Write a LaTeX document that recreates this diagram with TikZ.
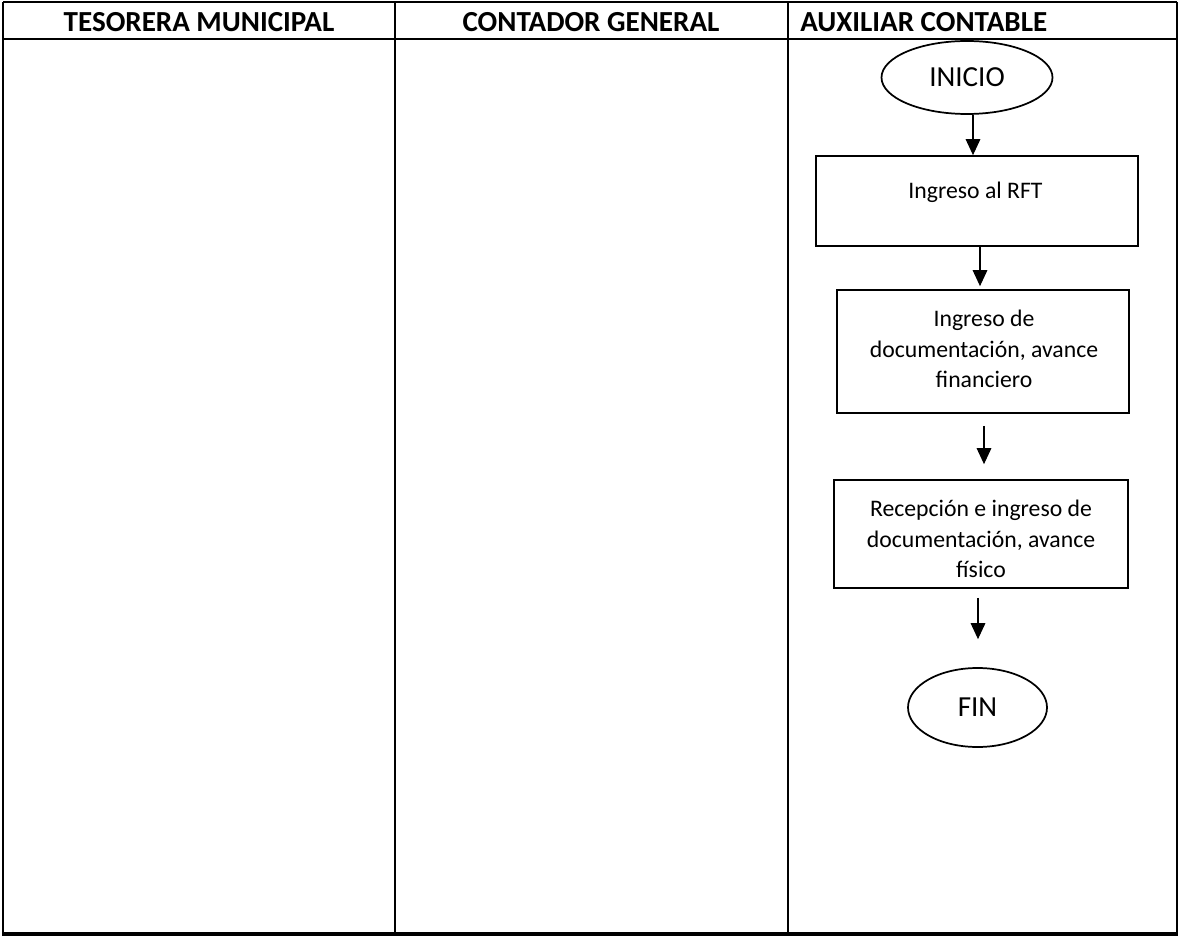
\documentclass[tikz,border=0pt]{standalone}
\usepackage{fontspec}
\setmainfont{Carlito}
\usetikzlibrary{shapes.geometric,arrows.meta,calc}

% one unit of the drawing grid
\newdimen\pxu
\pxu=0.75pt

\tikzset{
  grid/.style={line width=1.2pt},
  lanehead/.style={font=\bfseries\fontsize{21.8}{26}\selectfont, inner sep=0pt},
  terminal/.style={ellipse, draw, line width=1.3pt, inner sep=0pt,
    font=\fontsize{21.8}{26}\selectfont},
  procbox/.style={rectangle, draw, line width=1.3pt, inner sep=0pt},
  proctext/.style={align=center, inner sep=0pt,
    font=\fontsize{17.8}{22.8}\selectfont},
  flow/.style={line width=0.8pt, -{Triangle[width=11pt,length=12pt]}}
}

\begin{document}
\begin{tikzpicture}[x=0.75pt,y=-0.75pt]
  \useasboundingbox (0,0) rectangle (1180,937);

  % swimlane table
  \draw[grid] (3,2) -- (1177,2);
  \draw[grid] (3,39) -- (1177,39);
  \draw[grid] (1177,2) -- (1177,934);
  \draw[line width=1.6pt] (3,2) -- (3,934);
  \draw[line width=2.3pt] (2,934) -- (1178,934);
  \draw[grid] (395,2) -- (395,934);
  \draw[grid] (788,2) -- (788,934);

  % lane titles
  \node[lanehead] (h1) at (199,22) {TESORERA MUNICIPAL};
  \node[lanehead] (h2) at (591,22) {CONTADOR GENERAL};
  \node[lanehead, anchor=west] (h3) at (800,22) {AUXILIAR CONTABLE};

  % flow of the accounting assistant
  \node[terminal, minimum width=171\pxu, minimum height=73\pxu] (ini) at (967,77.5) {INICIO};

  \node[procbox, minimum width=322\pxu, minimum height=90\pxu] (b1) at (977,201) {};
  \node[proctext] (b1t) at (975.5,192) {Ingreso al RFT};

  \node[procbox, minimum width=292\pxu, minimum height=123\pxu] (b2) at (983,351.5) {};
  \node[proctext] (b2t) at (984,349) {Ingreso de\\documentación, avance\\financiero};

  \node[procbox, minimum width=294\pxu, minimum height=108\pxu] (b3) at (981,534) {};
  \node[proctext] (b3t) at (981,539) {Recepción e ingreso de\\documentación, avance\\físico};

  \node[terminal, minimum width=139\pxu, minimum height=79\pxu] (fin) at (977.5,707.5) {FIN};

  % connectors
  \draw[flow] ($(ini.south)+(6,0)$) -- ($(b1.north)+(-4,0)$);
  \draw[flow] ($(b1.south)+(3,0)$) -- ($(b2.north)+(-3,-3)$);
  \draw[flow] ($(b2.south)+(1,12)$) -- ($(b3.north)+(3,-15)$);
  \draw[flow] ($(b3.south)+(-3,9)$) -- ($(fin.north)+(0.5,-28)$);
\end{tikzpicture}
\end{document}
